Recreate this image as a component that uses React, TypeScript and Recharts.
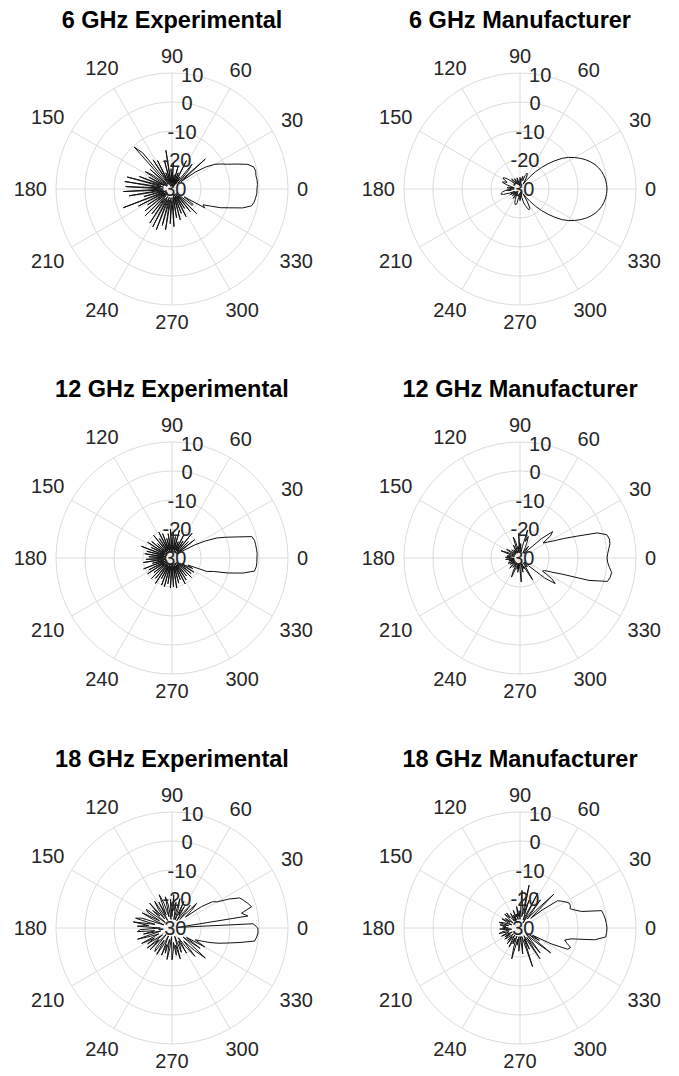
import React from 'react';
import { RadarChart, Radar, PolarGrid, PolarAngleAxis, PolarRadiusAxis } from 'recharts';

// Angle categories (degrees, 3° step) and axis ticks
const ANGLES: number[] = Array.from({ length: 120 }, (_, i) => i * 3);
const ANGLE_TICKS = [0, 30, 60, 90, 120, 150, 180, 210, 240, 270, 300, 330];
const RADIUS_TICKS = [-30, -20, -10, 0, 10];
const R_MIN = -30;
const R_MAX = 10;

const TITLES = [
  '6 GHz Experimental',
  '6 GHz Manufacturer',
  '12 GHz Experimental',
  '12 GHz Manufacturer',
  '18 GHz Experimental',
  '18 GHz Manufacturer',
];

// Gain (dB) every 3°, starting at 0°, counter-clockwise
const exp6 = [
  -0.7, -0.5, -0.5, -0.7, -0.5, -0.8, -2.5, -6, -9, -11, -13, -16,
  -20, -26, -14.5, -27, -22, -19, -28, -25, -29, -19, -28, -24,
  -29, -22, -28, -25, -29, -21, -27, -23, -29, -16.5, -28, -20,
  -28, -24, -29, -19, -27, -18, -28, -14, -10.5, -27, -20, -28,
  -22, -19, -28, -21, -27, -18, -26, -14, -27, -13.5, -26, -14,
  -27, -13.2, -26, -15, -27, -20, -28, -12, -27, -17, -28, -20,
  -27, -18, -28, -17, -27, -19, -26, -16, -27, -15.3, -26, -15,
  -27, -17, -26, -15.8, -27, -18, -26, -17, -27, -20, -28, -19,
  -27, -21, -28, -19.3, -27, -22, -28, -20, -27, -18, -28, -21,
  -21, -25, -17, -18, -15.5, -12, -9, -4.8, -2, -1.3, -1, -0.7,
];

const man6 = [
  0, -0.1, -0.3, -0.7, -1.2, -1.9, -2.8, -3.9, -5.2, -6.7, -8.3, -10,
  -12, -14.5, -17, -19.5, -22, -24.5, -26.5, -28, -26, -24.5, -24, -25,
  -27, -26, -25.5, -27, -28, -26.5, -26, -27.5, -29, -28, -27, -26,
  -27.5, -28.5, -27, -26, -27, -28, -26.5, -25.5, -26, -27.5, -26, -24.5,
  -23.5, -23, -24, -25, -24, -23.5, -25, -27, -28, -26, -25.5, -26.5,
  -28, -27, -25, -24, -23.5, -23.2, -24, -26, -28, -27, -26, -27.5,
  -28.5, -27, -26.5, -28, -29, -27.5, -26, -27, -28.5, -27, -26, -25,
  -24.5, -24.3, -25, -27, -28.5, -27, -26, -26.5, -28, -29, -27, -25,
  -24, -22.8, -22.2, -22.5, -25, -28, -26.5, -24.5, -22, -19.5, -17, -14.5,
  -12, -10, -8.3, -6.7, -5.2, -3.9, -2.8, -1.9, -1.2, -0.7, -0.3, -0.1,
];

const exp12 = [
  -0.7, -0.6, -0.7, -0.8, -0.9, -1.5, -6.5, -10, -13, -17, -21, -25,
  -28, -20, -27, -22, -28, -19, -27, -23, -28, -21, -27, -24,
  -28, -20, -27, -22.5, -28, -21, -27, -20, -28, -21.5, -27, -23,
  -28, -21, -27, -20, -28, -22, -27, -20, -28, -23, -27, -21,
  -28, -20, -27, -22, -28, -18.7, -27, -21, -28, -20.5, -27, -22,
  -28, -21, -27, -20, -28, -23, -27, -19.5, -28, -21, -27, -20,
  -28, -22, -27, -20, -28, -21, -27, -19.5, -28, -22, -27, -20,
  -28, -19.8, -27, -21, -28, -19.6, -27, -20, -28, -19.5, -27, -21,
  -28, -22, -27, -20, -28, -21, -27, -22, -28, -20.5, -27, -21.5,
  -27, -21, -26, -22, -24, -17, -15, -10, -5, -1.2, -0.8, -0.7,
];

const man12 = [
  0, 0.3, 0.8, 1.4, 1.5, 1, -2, -9, -13.5, -17, -19, -20.5,
  -17, -15.5, -20, -26, -28, -27, -25, -26.5, -28, -26, -24, -22,
  -24, -20, -26, -28, -27, -25, -28, -21.5, -27, -26, -28, -24,
  -22.4, -27, -28, -25, -27, -28, -26.5, -27, -28, -26, -27.5, -28,
  -26, -24.5, -27, -28, -25.5, -23, -27, -28, -26, -25.5, -27, -25,
  -26.5, -28, -25, -27, -28, -26, -27.5, -28, -25.5, -27, -28, -26,
  -27, -28, -26.5, -25, -27.5, -28, -26, -27, -28, -25, -22.8, -27,
  -28, -26, -27.5, -25, -28, -27, -26, -21.7, -27, -28, -25, -27,
  -28, -26, -27, -25, -21.4, -27, -28, -26, -27, -28, -26, -19,
  -15, -17, -21, -20.5, -18, -14.5, -5, 1.2, 1.8, 2, 1, 0.3,
];

const exp18 = [
  -0.4, -2, -28, -3.5, -5.5, -1.6, -2.5, -3.5, -4.5, -8, -12, -13.3,
  -17.5, -24, -21, -18, -26, -20, -23, -27, -21.5, -25, -20, -27,
  -23, -19.5, -27, -21, -24, -18.5, -26, -20, -27, -22, -19, -26,
  -21, -17.7, -25, -20, -27, -19, -22, -26, -18.5, -24, -21, -27,
  -19, -20, -25, -18.5, -23, -27, -19, -17, -24, -16.5, -22, -18,
  -26, -19, -18, -24, -20, -26, -17.5, -22, -25, -18.3, -23, -20,
  -26, -19, -24, -19.3, -27, -21, -20, -25, -19.5, -23, -27, -20,
  -24, -21, -26, -19, -23, -27, -19, -22, -25, -20.5, -24, -19,
  -27, -21, -23, -25, -20, -26, -22, -17.4, -24, -19, -14.5, -25,
  -18, -24, -17, -21, -19, -16, -13, -10, -6, -1.2, -0.6, -0.3,
];

const man18 = [
  0, -0.2, -0.4, -0.8, -1.2, -8, -10, -11.5, -11, -11, -12, -13,
  -14, -20, -25, -13.6, -22, -26, -18, -25, -28, -16.5, -25, -27,
  -20, -25, -14.9, -26, -22, -17, -27, -24, -26, -22.5, -27, -25,
  -26, -23.5, -27, -25, -28, -24, -26, -27, -23, -25, -22.9, -26,
  -27, -24, -26, -23, -25, -27, -24, -22.5, -26, -23, -25, -24,
  -26, -23, -25, -27, -24, -22.5, -26, -25, -23, -27, -24, -26,
  -23.5, -25, -27, -24, -26, -23, -27, -25, -22.5, -26, -24, -27,
  -23, -19, -26, -24, -27, -22, -25, -27, -21, -25, -27, -25,
  -16, -26, -22, -27, -25, -17.4, -26, -19, -24, -27, -23, -16.4,
  -26, -22, -25, -18, -12, -11.3, -13, -14, -12, -4, -0.3, -0.1,
];

const SERIES = [exp6, man6, exp12, man12, exp18, man18];

const FONT = '"Liberation Sans", Arial, Helvetica, sans-serif';
const TICK_FS = 20;
const TITLE_FS = 23.5;
const OUTER_R = 116;
const PANEL_W = 340;
const PANEL_H = 369;
const COL_LEFT = [0, 340];
const COL_CX = [172, 180];
const ROW_TOP = [0, 369, 739];
const CY = 189;
const GRID_COLOR = '#dcdcdc';
const TEXT_COLOR = '#262626';

const ringRadii = RADIUS_TICKS.filter((t) => t > R_MIN).map(
  (t) => ((t - R_MIN) / (R_MAX - R_MIN)) * OUTER_R
);

function makeAngleTick(cx: number, cy: number) {
  return (props: any) => {
    const a = Number(props?.payload?.value);
    if (!ANGLE_TICKS.includes(a)) return <g />;
    const rad = (a * Math.PI) / 180;
    const label = String(a);
    const w = label.length * 0.556 * TICK_FS;
    const h = 16;
    const rr = 125 + (Math.abs(Math.cos(rad)) * w) / 2 + (Math.abs(Math.sin(rad)) * h) / 2;
    const x = cx + rr * Math.cos(rad);
    const y = cy - rr * Math.sin(rad);
    return (
      <text x={x} y={y + TICK_FS * 0.35} textAnchor="middle" fill={TEXT_COLOR} fontSize={TICK_FS} fontFamily={FONT}>
        {label}
      </text>
    );
  };
}

const RadiusTick = (props: any) => {
  const { x, y, payload } = props;
  return (
    <text x={x} y={y + TICK_FS * 0.35} textAnchor="middle" fill={TEXT_COLOR} fontSize={TICK_FS} fontFamily={FONT}>
      {payload.value}
    </text>
  );
};

function Panel({ index }: { index: number }) {
  const col = index % 2;
  const row = Math.floor(index / 2);
  const cx = COL_CX[col];
  const values = SERIES[index];
  const data = ANGLES.map((a, i) => ({ angle: a, gain: values[i] }));
  return (
    <div style={{ position: 'absolute', left: COL_LEFT[col], top: ROW_TOP[row], width: PANEL_W, height: PANEL_H }}>
      <div style={{ position: 'absolute', top: 0, left: 0 }}>
        <RadarChart
          width={PANEL_W}
          height={PANEL_H}
          data={data}
          cx={cx}
          cy={CY}
          innerRadius={0}
          outerRadius={OUTER_R}
          startAngle={0}
          endAngle={360}
          margin={{ top: 0, right: 0, bottom: 0, left: 0 }}
        >
          <PolarGrid gridType="circle" polarAngles={ANGLE_TICKS} polarRadius={ringRadii} stroke={GRID_COLOR} strokeWidth={1} />
          <PolarAngleAxis
            dataKey="angle"
            type="number"
            domain={[0, 360]}
            ticks={ANGLE_TICKS}
            tickCount={13}
            axisLine={false}
            tickLine={false}
            tick={makeAngleTick(cx, CY)}
          />
          <PolarRadiusAxis
            angle={80}
            type="number"
            domain={[R_MIN, R_MAX]}
            ticks={RADIUS_TICKS}
            tickCount={5}
            allowDataOverflow
            axisLine={false}
            tickLine={false}
            tick={<RadiusTick />}
          />
          <Radar
            dataKey="gain"
            stroke="#111111"
            strokeWidth={1}
            fill="none"
            fillOpacity={0}
            dot={false}
            isAnimationActive={false}
          />
        </RadarChart>
      </div>
      <div
        style={{
          position: 'absolute',
          top: 7,
          left: cx - 170,
          width: 340,
          textAlign: 'center',
          fontFamily: FONT,
          fontWeight: 'bold',
          fontSize: TITLE_FS,
          lineHeight: '26px',
          color: '#000',
          whiteSpace: 'nowrap',
        }}
      >
        {TITLES[index]}
      </div>
    </div>
  );
}

export default function App() {
  return (
    <div style={{ position: 'absolute', left: 0, top: 0, width: 679, height: 1076, background: '#ffffff', overflow: 'hidden' }}>
      {TITLES.map((_, i) => (
        <Panel key={i} index={i} />
      ))}
    </div>
  );
}
